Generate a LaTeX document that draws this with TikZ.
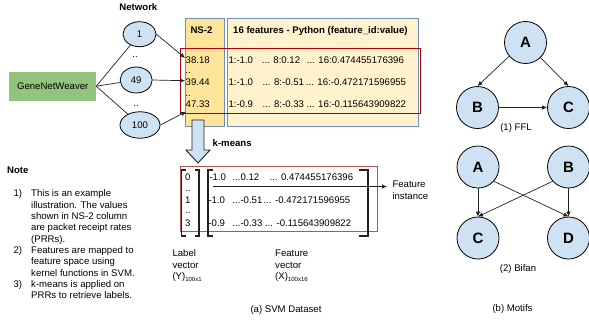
\documentclass[tikz,border=0pt]{standalone}
\usepackage{fontspec}
\setmainfont{Liberation Sans}
\usetikzlibrary{arrows.meta,shapes.geometric}
\definecolor{nodeblue}{HTML}{CFE2F3}
\definecolor{edgeblue}{HTML}{6C8EBF}
\definecolor{nsfill}{HTML}{FFE599}
\definecolor{featfill}{HTML}{FFF2CC}
\definecolor{gnwgreen}{HTML}{93C47D}
\definecolor{darkred}{HTML}{B20000}
\definecolor{softred}{HTML}{B85450}
\definecolor{ink}{HTML}{222222}
\begin{document}
\begin{tikzpicture}[x=1pt,y=-1pt,
  every node/.style={font=\fontsize{9.6}{11.3}\selectfont, inner sep=0pt, text=black},
  txt/.style={anchor=base west},
  txtc/.style={anchor=base},
  bold/.style={font=\fontsize{9.6}{11.3}\selectfont\bfseries},
  netell/.style={ellipse, draw=black, fill=nodeblue, line width=0.8pt},
  motif/.style={circle, draw=black, fill=nodeblue, minimum size=42pt, line width=0.8pt, font=\fontsize{15}{18}\selectfont\bfseries},
  tabbox/.style={draw=edgeblue, line width=0.8pt, anchor=north west},
  link/.style={draw=ink, line width=0.7pt},
  arr/.style={link, -{Latex[length=5pt,width=4.5pt]}},
  brk/.style={draw=ink, line width=1.2pt},
]
\useasboundingbox (0,0) rectangle (589,322);

% ---------- network side ----------
\node[bold, txtc] (nettitle) at (138.4,10.7) {Network};
\node[netell, minimum width=33pt, minimum height=25pt] (e1) at (139.5,34.2) {1};
\node[txtc] (dd1) at (135,57.5) {..};
\node[netell, minimum width=32pt, minimum height=26pt] (e49) at (136.2,80) {49};
\node[txtc] (dd2) at (136,106) {..};
\node[netell, minimum width=40pt, minimum height=26.5pt] (e100) at (140,125) {100};
\node[fill=gnwgreen, minimum width=86.7pt, minimum height=29pt] (gnw) at (52.7,86.2) {GeneNetWeaver};
\draw[link] (gnw.east) -- (e1);
\draw[link] (gnw.east) -- (e49);
\draw[link] (gnw.east) -- (e100);

% ---------- table ----------
\node[tabbox, fill=nsfill, minimum width=39pt, minimum height=107.5pt] (nscol) at (185,18.2) {};
\node[tabbox, fill=featfill, minimum width=190.5pt, minimum height=107.5pt] (featcol) at (227.3,18.2) {};
\draw[darkred, line width=0.9pt] (180.5,48.3) rectangle (420,113.3);
\node[bold, txt] (nsh) at (190.3,33.3) {NS-2};
\node[bold, txt] (fth) at (233,33.3) {16 features - Python (feature\_id:value)};
\node[txt] (p1) at (185.5,63.3) {38.18};
\node[txt] (pd1) at (185.5,73.5) {..};
\node[txt] (p2) at (185.5,85) {39.44};
\node[txt] (pd2) at (185.5,96.5) {..};
\node[txt] (p3) at (185.5,107.3) {47.33};
\node[txt] (r1a) at (228.3,63.3) {1:-1.0};
\node[txt] (r1b) at (261.7,63.3) {... 8:0.12};
\node[txt] (r1c) at (306.7,63.3) {... 16:0.474455176396};
\node[txt] (r2a) at (228.3,85) {1:-1.0};
\node[txt] (r2b) at (262.3,85) {... 8:-0.51};
\node[txt] (r2c) at (305.7,85) {... 16:-0.472171596955};
\node[txt] (r3a) at (228.3,107.3) {1:-0.9};
\node[txt] (r3b) at (262.3,107.3) {... 8:-0.33 ... 16:-0.115643909822};

\coordinate (t1) at (185,58);
\coordinate (t2) at (185,80.7);
\coordinate (t3) at (186,111.7);
\draw[arr] (e1.east) -- (t1);
\draw[arr] (e49.east) -- (t2);
\draw[arr] (e100.east) -- (t3);

% ---------- k-means arrow ----------
\draw[draw=ink, fill=nodeblue, line width=0.9pt] (192,120) -- (204,120) -- (204,150) -- (210,150) -- (198,163) -- (186,150) -- (192,150) -- cycle;
\node[bold, txt] (km) at (212.5,146.5) {k-means};

% ---------- SVM dataset ----------
\draw[softred, line width=0.9pt] (180,166) rectangle (377,231);
\draw[brk] (185.5,170) -- (181.5,170) -- (181.5,236) -- (185.5,236);
\draw[brk] (195,170) -- (199,170) -- (199,236) -- (195,236);
\draw[brk] (213,170) -- (208,170) -- (208,236) -- (213,236);
\draw[brk] (359,170) -- (368,170) -- (368,236) -- (359,236);
\node[txt] (y0) at (185,180) {0};
\node[txt] (yd1) at (185,191) {..};
\node[txt] (y1) at (185,203.3) {1};
\node[txt] (yd2) at (185,213.5) {..};
\node[txt] (y3) at (185,226) {3};
\node[txt] (m1a) at (209.3,180) {-1.0};
\node[txt] (m1b) at (232.3,180) {...0.12};
\node[txt] (m1c) at (269.3,180) {... 0.474455176396};
\node[txt] (m2a) at (208.3,203.3) {-1.0};
\node[txt] (m2b) at (232.3,203.3) {...-0.51};
\node[txt] (m2c) at (263.3,203.3) {... -0.472171596955};
\node[txt] (m3a) at (208.3,226) {-0.9};
\node[txt] (m3b) at (232.3,226) {...-0.33 ... -0.115643909822};
\coordinate (fis) at (213,186.5);
\coordinate (fie) at (387,186.5);
\draw[arr] (fis) -- (fie);
\node[txt] (fi1) at (392.3,187.5) {Feature};
\node[txt] (fi2) at (392.3,199.5) {instance};
\node[txt] (lv1) at (172.3,256.7) {Label};
\node[txt] (lv2) at (172.3,268) {vector};
\node[txt] (lv3) at (172.3,279.3) {(Y)\raisebox{-2.2pt}{\fontsize{6}{7}\selectfont 100x1}};
\node[txt] (fv1) at (275,256.7) {Feature};
\node[txt] (fv2) at (275,268) {vector};
\node[txt] (fv3) at (275,279.3) {(X)\raisebox{-2.2pt}{\fontsize{6}{7}\selectfont 100x16}};
\node[txtc] (capa) at (286,312.5) {(a) SVM Dataset};

% ---------- notes ----------
\node[bold, txt] (note) at (7,173.5) {Note};
\node[txt] (n1) at (13.3,196.7) {1)};
\node[txt] (n2) at (13.3,253.3) {2)};
\node[txt] (n3) at (13.3,287.3) {3)};
\foreach \t [count=\i] in {This is an example,illustration. The values,shown in NS-2 column,are packet receipt rates,(PRRs).,Features are mapped to,feature space using,kernel functions in SVM.,k-means is applied on,PRRs to retrieve labels.}
  \node[txt] (nl\i) at (31,196.7+11.33*\i-11.33) {\t};

% ---------- motifs ----------
\node[motif] (fa) at (525.5,42.5) {A};
\node[motif] (fb) at (477.5,107.5) {B};
\node[motif] (fc) at (568.5,107.5) {C};
\draw[arr] (fa.220) -- (fb.north);
\draw[arr] (fa.-45) -- (fc.north);
\draw[arr] (fb.east) -- (fc.west);
\node[txtc] (ffl) at (516,130.3) {(1) FFL};
\node[motif] (ba) at (478,167) {A};
\node[motif] (bb) at (568.5,167) {B};
\node[motif] (bc) at (478,238) {C};
\node[motif] (bd) at (568.5,238) {D};
\draw[arr] (ba.south) -- (bc.north);
\draw[arr] (bb.south) -- (bd.north);
\draw[arr] (ba.-42) -- (bd.north);
\draw[arr] (bb.222) -- (bc.north);
\node[txtc] (bif) at (518,271.5) {(2) Bifan};
\node[txtc] (mot) at (512.5,311.5) {(b) Motifs};
\end{tikzpicture}
\end{document}
